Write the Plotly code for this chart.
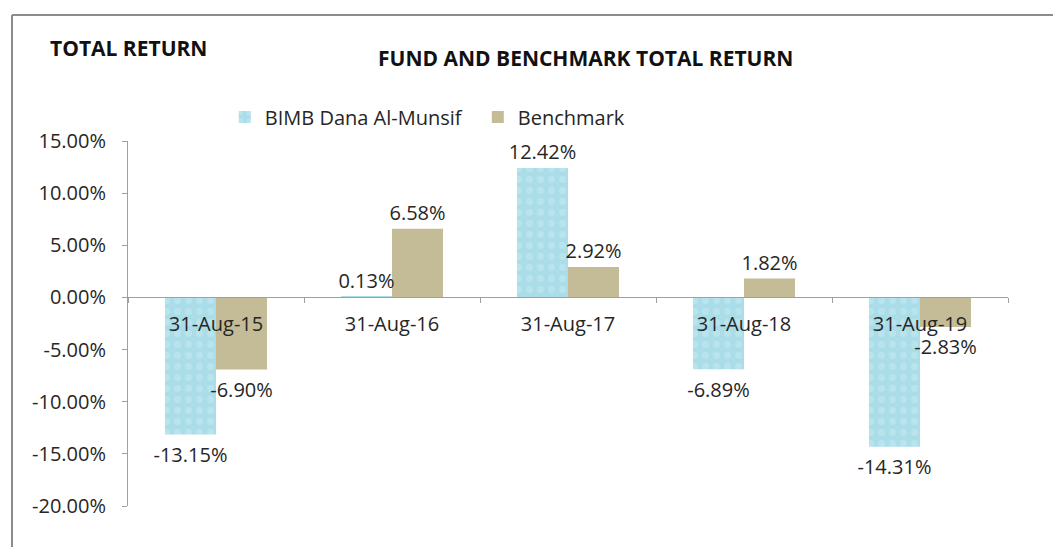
import plotly.graph_objects as go

dates = ['31-Aug-15', '31-Aug-16', '31-Aug-17', '31-Aug-18', '31-Aug-19']
fund = [-13.15, 0.13, 12.42, -6.89, -14.31]
bench = [-6.90, 6.58, 2.92, 1.82, -2.83]
y_ticks = [15, 10, 5, 0, -5, -10, -15, -20]

FONT = "Open Sans"
TXT = "#262626"

fig = go.Figure()
fig.add_trace(go.Bar(
    x=dates, y=fund, name='BIMB Dana Al-Munsif', offsetgroup='f',
    marker=dict(color='#aee0ea', line=dict(width=0),
                pattern=dict(shape='.', fgcolor='#c8ecf3', bgcolor='#aadde8', size=11, solidity=0.3)),
))
fig.add_trace(go.Bar(
    x=dates, y=bench, name='Benchmark', offsetgroup='b',
    marker=dict(color='#c4bc96', line=dict(width=0)),
))
for vals, grp in [(fund, 'f'), (bench, 'b')]:
    fig.add_trace(go.Scatter(
        x=dates, y=vals, mode='markers+text', offsetgroup=grp, showlegend=False, hoverinfo='skip',
        marker=dict(size=[4 if v >= 0 else 18 for v in vals], opacity=0),
        text=[f"{v:.2f}%" for v in vals],
        textposition=['top center' if v >= 0 else 'bottom center' for v in vals],
        textfont=dict(family=FONT, size=20, color=TXT), cliponaxis=False,
    ))

fig.update_layout(
    width=1053, height=547,
    margin=dict(l=128, r=45, t=141, b=41),
    paper_bgcolor='white', plot_bgcolor='white',
    barmode='group', bargap=0.42, bargroupgap=0,
    scattermode='group', scattergap=0.42,
    font=dict(family=FONT, size=20, color=TXT),
    showlegend=True,
    legend=dict(orientation='h', x=0.11, y=1.066, xanchor='left', yanchor='middle',
                font=dict(family=FONT, size=20, color=TXT),
                entrywidth=208, entrywidthmode='pixels',
                bgcolor='rgba(0,0,0,0)'),
    xaxis=dict(
        type='category', anchor='free', position=0.5726,
        showline=True, linecolor='#a0a0a0', linewidth=1,
        ticks='outside', tickson='boundaries', ticklen=5, tickcolor='#a0a0a0',
        showgrid=False, zeroline=False,
        tickfont=dict(family=FONT, size=20, color=TXT),
        ticklabelstandoff=9,
    ),
    yaxis=dict(
        range=[-20, 15], showgrid=False, zeroline=False,
        showline=True, linecolor='#a0a0a0', linewidth=1,
        ticks='outside', ticklen=5, tickcolor='#a0a0a0',
        tickvals=y_ticks, ticktext=[f"{v:.2f}%" for v in y_ticks],
        tickfont=dict(family=FONT, size=20, color=TXT),
        ticklabelstandoff=12,
    ),
    shapes=[
        dict(type='line', xref='paper', yref='paper', x0=-0.1318, x1=1.2, y0=1.345, y1=1.345,
             line=dict(color='#8c8c8c', width=2)),
        dict(type='line', xref='paper', yref='paper', x0=-0.1318, x1=-0.1318, y0=1.345, y1=-0.3,
             line=dict(color='#8c8c8c', width=2)),
    ],
    annotations=[
        dict(text='<b>TOTAL RETURN</b>', xref='paper', yref='paper', x=(48 - 128) / 880, y=(506 - 48) / 365,
             xanchor='left', yanchor='middle', showarrow=False, font=dict(family=FONT, size=21, color='#111')),
        dict(text='<b>FUND AND BENCHMARK TOTAL RETURN</b>', xref='paper', yref='paper', x=(585 - 128) / 880,
             y=(506 - 58) / 365, xanchor='center', yanchor='middle', showarrow=False,
             font=dict(family=FONT, size=21, color='#111')),
    ],
)

fig.write_html("out.html")
